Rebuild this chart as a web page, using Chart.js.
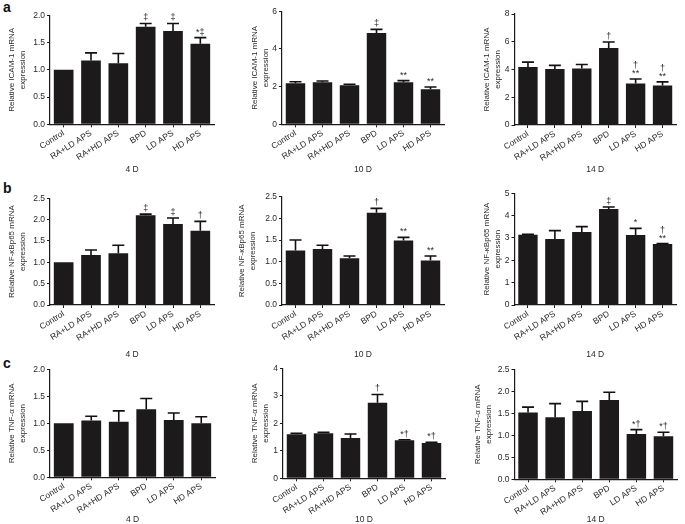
<!DOCTYPE html>
<html>
<head>
<meta charset="utf-8">
<script src="https://cdn.jsdelivr.net/npm/chart.js@4.4.1/dist/chart.umd.min.js"></script>
<style>
    body { margin: 0; background: #fff; width: 685px; height: 524px; position: relative; overflow: hidden; font-family: "Liberation Sans", Arial, sans-serif; }
    canvas { position: absolute; }
    .lettre { position: absolute; font-weight: bold; font-size: 14px; color: #111; line-height: 1; }
</style>
</head>
<body>
<div class="lettre" style="left:3px;top:0px">a</div>
<div class="lettre" style="left:3px;top:181px">b</div>
<div class="lettre" style="left:3px;top:356px">c</div>

<script>
const groupes = ["Control", "RA+LD APS", "RA+HD APS", "BPD", "LD APS", "HD APS"];

// a : ICAM-1
const icam4D = [1.0, 1.17, 1.12, 1.79, 1.71, 1.48];
const icam4DErr = [0, 0.14, 0.18, 0.06, 0.14, 0.11];
const icam4DSig = ["", "", "", "‡", "‡", "*‡"];

const icam10D = [2.18, 2.23, 2.07, 4.85, 2.23, 1.86];
const icam10DErr = [0.08, 0.07, 0.06, 0.19, 0.09, 0.12];
const icam10DSig = ["", "", "", "‡", "**", "**"];

const icam14D = [4.18, 4.03, 4.08, 5.55, 3.0, 2.85];
const icam14DErr = [0.35, 0.27, 0.28, 0.43, 0.32, 0.26];
const icam14DSig = ["", "", "", "†", "†\n**", "†\n**"];

// b : NF-kBp65
const nfkb4D = [1.0, 1.17, 1.21, 2.1, 1.9, 1.74];
const nfkb4DErr = [0, 0.12, 0.19, 0.03, 0.14, 0.22];
const nfkb4DSig = ["", "", "", "‡", "‡", "†"];

const nfkb10D = [1.26, 1.29, 1.08, 2.13, 1.49, 1.03];
const nfkb10DErr = [0.24, 0.09, 0.05, 0.1, 0.07, 0.1];
const nfkb10DSig = ["", "", "", "†", "**", "**"];

const nfkb14D = [3.14, 2.95, 3.27, 4.3, 3.13, 2.73];
const nfkb14DErr = [0.03, 0.38, 0.24, 0.09, 0.3, 0.02];
const nfkb14DSig = ["", "", "", "‡", "*", "†\n**"];

// c : TNF-alpha
const tnf4D = [1.0, 1.05, 1.03, 1.26, 1.06, 1.0];
const tnf4DErr = [0, 0.08, 0.2, 0.2, 0.13, 0.12];
const tnf4DSig = ["", "", "", "", "", ""];

const tnf10D = [1.6, 1.64, 1.47, 2.75, 1.38, 1.28];
const tnf10DErr = [0.04, 0.03, 0.14, 0.3, 0.02, 0.03];
const tnf10DSig = ["", "", "", "†", "*†", "*†"];

const tnf14D = [1.52, 1.41, 1.55, 1.8, 1.03, 0.98];
const tnf14DErr = [0.12, 0.31, 0.22, 0.18, 0.1, 0.09];
const tnf14DSig = ["", "", "", "", "*†", "*†"];

const titreIcam = ["Relative ICAM-1 mRNA", "expression"];
const titreNfkb = ["Relative NF-κBp65 mRNA", "expression"];
const titreTnf = ["Relative TNF-α mRNA", "expression"];

const couleurTexte = "#2a2a2a";
const couleurAxe = "#1a1a1a";

// mise en page des colonnes / lignes (coordonnees de la page)
const colonnes = [
    { x: 0, w: 228, titreX: 11.6 },
    { x: 230, w: 228, titreX: 254.7 },
    { x: 460, w: 225, titreX: 487 }
];
const lignes = [
    { y: 0, h: 182, titreY: 170 },
    { y: 180, h: 182, titreY: 355 },
    { y: 355, h: 175, titreY: 520 }
];

// zone = [gauche, droite, haut, bas] de la zone de trace
const panneaux = [
    { col: 0, lig: 0, zone: [50, 214, 15.3, 124.3], max: 2, pas: 0.5, dec: 1, titre: titreIcam, jour: "4 D", val: icam4D, err: icam4DErr, sig: icam4DSig },
    { col: 1, lig: 0, zone: [282, 444, 11.3, 124.3], max: 6, pas: 2, dec: 0, titre: titreIcam, jour: "10 D", val: icam10D, err: icam10DErr, sig: icam10DSig },
    { col: 2, lig: 0, zone: [514.5, 676, 14, 125], max: 8, pas: 2, dec: 0, titre: titreIcam, jour: "14 D", val: icam14D, err: icam14DErr, sig: icam14DSig },
    { col: 0, lig: 1, zone: [50, 214, 198.3, 305], max: 2.5, pas: 0.5, dec: 1, titre: titreNfkb, jour: "4 D", val: nfkb4D, err: nfkb4DErr, sig: nfkb4DSig },
    { col: 1, lig: 1, zone: [282, 444, 196.7, 305], max: 2.5, pas: 0.5, dec: 1, titre: titreNfkb, jour: "10 D", val: nfkb10D, err: nfkb10DErr, sig: nfkb10DSig, titreX: 242 },
    { col: 2, lig: 1, zone: [514.5, 676, 193.3, 305], max: 5, pas: 1, dec: 0, titre: titreNfkb, jour: "14 D", val: nfkb14D, err: nfkb14DErr, sig: nfkb14DSig },
    { col: 0, lig: 2, zone: [50, 215, 369.3, 477.3], max: 2, pas: 0.5, dec: 1, titre: titreTnf, jour: "4 D", val: tnf4D, err: tnf4DErr, sig: tnf4DSig },
    { col: 1, lig: 2, zone: [283, 445, 368.3, 478.3], max: 4, pas: 1, dec: 0, titre: titreTnf, jour: "10 D", val: tnf10D, err: tnf10DErr, sig: tnf10DSig },
    { col: 2, lig: 2, zone: [514.5, 677, 369.3, 479.3], max: 2.5, pas: 0.5, dec: 1, titre: titreTnf, jour: "14 D", val: tnf14D, err: tnf14DErr, sig: tnf14DSig, titreX: 478 }
];

// barres d'erreur + marques de significativite
const pluginErreurs = {
    id: "erreurs",
    afterDatasetsDraw(chart, args, opts) {
        const ctx = chart.ctx;
        const echelleY = chart.scales.y;
        const meta = chart.getDatasetMeta(0);
        ctx.save();
        meta.data.forEach((barre, i) => {
            const haut = echelleY.getPixelForValue(opts.val[i] + opts.err[i]);
            ctx.strokeStyle = "#111";
            ctx.lineWidth = 1.6;
            if (opts.err[i] > 0) {
                ctx.beginPath();
                ctx.moveTo(barre.x, barre.y);
                ctx.lineTo(barre.x, haut);
                ctx.moveTo(barre.x - 6, haut);
                ctx.lineTo(barre.x + 6, haut);
                ctx.stroke();
            }
            if (opts.sig[i]) {
                const morceaux = opts.sig[i].split("\n").reverse();
                ctx.fillStyle = couleurTexte;
                ctx.font = "9px 'Liberation Sans', Arial, sans-serif";
                ctx.textAlign = "center";
                ctx.textBaseline = "alphabetic";
                morceaux.forEach((txt, k) => {
                    ctx.fillText(txt, barre.x, haut - 3 - k * 8);
                });
            }
        });
        ctx.restore();
    }
};

function creerPanneau(p) {
    const col = colonnes[p.col];
    const lig = lignes[p.lig];
    const [gauche, droite, haut, bas] = p.zone;
    const titreX = p.titreX || col.titreX;

    const canvas = document.createElement("canvas");
    canvas.width = col.w;
    canvas.height = lig.h;
    canvas.style.left = col.x + "px";
    canvas.style.top = lig.y + "px";
    document.body.appendChild(canvas);

    const policeTicks = { family: "'Liberation Sans', Arial, sans-serif", size: 8.5 };
    const hautLigneX = 8.5 * 1.2;
    const hautLigneY = 8 * 1.35;

    new Chart(canvas, {
        type: "bar",
        data: {
            labels: groupes,
            datasets: [{
                data: p.val,
                backgroundColor: "#1d1a1b",
                borderWidth: 0,
                barPercentage: 0.72,
                categoryPercentage: 1
            }]
        },
        options: {
            responsive: false,
            animation: false,
            devicePixelRatio: 1,
            layout: {
                padding: {
                    left: 0,
                    top: haut - lig.y,
                    right: col.x + col.w - droite,
                    bottom: 0
                }
            },
            plugins: {
                legend: { display: false },
                tooltip: { enabled: false },
                erreurs: { val: p.val, err: p.err, sig: p.sig }
            },
            scales: {
                x: {
                    grid: { display: true, drawOnChartArea: false, drawTicks: true, tickLength: 3, offset: false, color: couleurAxe },
                    border: { display: true, color: couleurAxe, width: 1.2 },
                    ticks: { font: policeTicks, color: couleurTexte, minRotation: 32, maxRotation: 32, autoSkip: false, padding: 1 },
                    title: {
                        display: true,
                        text: p.jour,
                        font: policeTicks,
                        color: couleurTexte,
                        padding: { top: 0, bottom: Math.max(lig.y + lig.h - lig.titreY - hautLigneX / 2, 0) }
                    },
                    afterFit: (scale) => { scale.height = lig.y + lig.h - bas; }
                },
                y: {
                    min: 0,
                    max: p.max,
                    grid: { display: true, drawOnChartArea: false, drawTicks: true, tickLength: 3, color: couleurAxe },
                    border: { display: true, color: couleurAxe, width: 1.2 },
                    ticks: {
                        stepSize: p.pas,
                        font: policeTicks,
                        color: couleurTexte,
                        padding: 2,
                        callback: (v) => Number(v).toFixed(p.dec)
                    },
                    title: {
                        display: true,
                        text: p.titre,
                        font: { family: "'Liberation Sans', Arial, sans-serif", size: 8, lineHeight: 1.35 },
                        color: couleurTexte,
                        padding: { top: titreX - col.x - hautLigneY / 2, bottom: 0 }
                    },
                    afterFit: (scale) => { scale.width = gauche - col.x; }
                }
            }
        },
        plugins: [pluginErreurs]
    });
}

panneaux.forEach(creerPanneau);
</script>
</body>
</html>
